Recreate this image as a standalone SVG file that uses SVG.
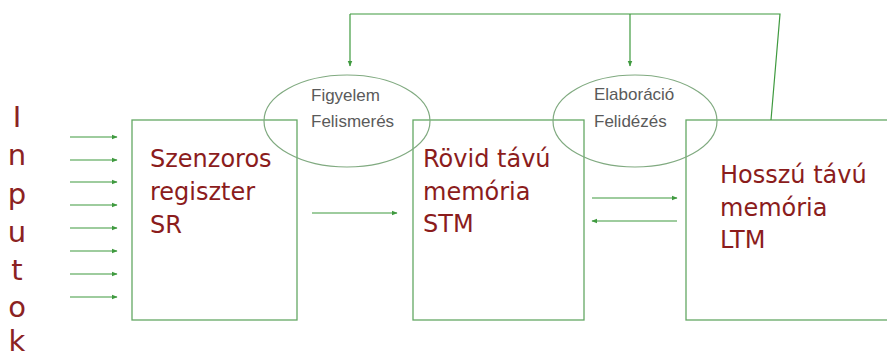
<svg xmlns="http://www.w3.org/2000/svg" width="887" height="359" viewBox="0 0 887 359">
<defs>
<marker id="ah" viewBox="0 0 10 10" refX="9" refY="5" markerWidth="6" markerHeight="6" markerUnits="userSpaceOnUse" orient="auto">
<path d="M0,1 L10,5 L0,9 z" fill="#3f9a3f"/>
</marker>
<style>
.box{fill:none;stroke:#64a864;stroke-width:1.3}
.ell{fill:none;stroke:#80aa80;stroke-width:1.2}
.lbl{font-family:"DejaVu Sans",Verdana,sans-serif;font-size:24px;fill:#8b1c1c}
.inp{font-family:"DejaVu Sans",Verdana,sans-serif;font-size:29px;fill:#8b2222;text-anchor:middle}
.sm{font-family:"Liberation Sans",Arial,sans-serif;font-size:17px;fill:#5a5a5a}
.con{fill:none;stroke:#3f9a3f;stroke-width:1.2}
</style>
</defs>
<rect width="887" height="359" fill="#ffffff"/>
<g id="input-label">
<text class="inp" x="17" y="127">I</text>
<text class="inp" x="17" y="165">n</text>
<text class="inp" x="17" y="204">p</text>
<text class="inp" x="17" y="242">u</text>
<text class="inp" x="17" y="280">t</text>
<text class="inp" x="17" y="317">o</text>
<text class="inp" x="17" y="351">k</text>
</g>
<g id="SR">
<rect class="box" x="132" y="120" width="165" height="200"/>
<text class="lbl" x="150" y="167">Szenzoros</text>
<text class="lbl" x="150" y="200">regiszter</text>
<text class="lbl" x="150" y="233">SR</text>
</g>
<g id="STM">
<rect class="box" x="413" y="120" width="171" height="200"/>
<text class="lbl" x="423" y="167">Rövid távú</text>
<text class="lbl" x="423" y="200">memória</text>
<text class="lbl" x="423" y="232">STM</text>
</g>
<g id="LTM">
<rect class="box" x="686" y="120" width="220" height="200"/>
<text class="lbl" x="720" y="183">Hosszú távú</text>
<text class="lbl" x="720" y="216">memória</text>
<text class="lbl" x="720" y="248">LTM</text>
</g>
<g id="figyelem">
<ellipse class="ell" cx="347" cy="121" rx="83" ry="46"/>
<text class="sm" x="311" y="101">Figyelem</text>
<text class="sm" x="311" y="127">Felismerés</text>
</g>
<g id="elaboracio">
<ellipse class="ell" cx="635" cy="121" rx="82" ry="46"/>
<text class="sm" x="594" y="100">Elaboráció</text>
<text class="sm" x="594" y="127">Felidézés</text>
</g>
<g id="connectors">
<line class="con" x1="70" y1="137" x2="117" y2="137" marker-end="url(#ah)"/>
<line class="con" x1="70" y1="160" x2="117" y2="160" marker-end="url(#ah)"/>
<line class="con" x1="70" y1="182" x2="117" y2="182" marker-end="url(#ah)"/>
<line class="con" x1="70" y1="205" x2="117" y2="205" marker-end="url(#ah)"/>
<line class="con" x1="70" y1="228" x2="117" y2="228" marker-end="url(#ah)"/>
<line class="con" x1="70" y1="251" x2="117" y2="251" marker-end="url(#ah)"/>
<line class="con" x1="70" y1="274" x2="117" y2="274" marker-end="url(#ah)"/>
<line class="con" x1="70" y1="297" x2="117" y2="297" marker-end="url(#ah)"/>
<line class="con" x1="312" y1="213" x2="397" y2="213" marker-end="url(#ah)"/>
<line class="con" x1="592" y1="198" x2="677" y2="198" marker-end="url(#ah)"/>
<line class="con" x1="677" y1="221" x2="592" y2="221" marker-end="url(#ah)"/>
<path class="con" d="M771,120 L780,14 L350,14"/>
<line class="con" x1="350" y1="14" x2="350" y2="66" marker-end="url(#ah)"/>
<line class="con" x1="630" y1="14" x2="630" y2="66" marker-end="url(#ah)"/>
</g>
</svg>
